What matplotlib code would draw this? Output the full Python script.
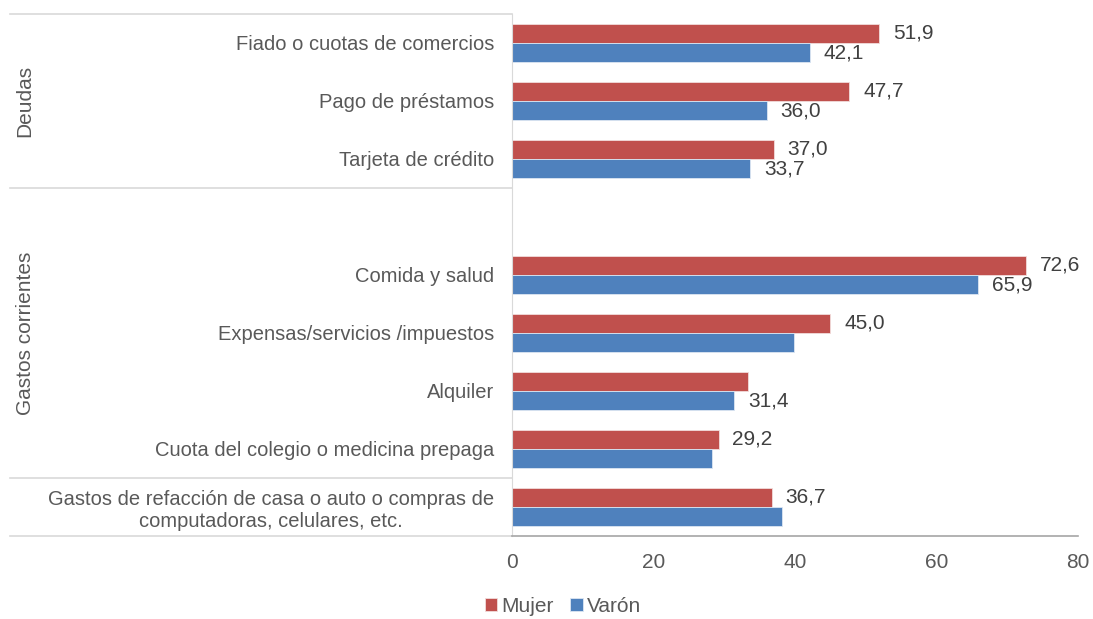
import numpy as np
import matplotlib.pyplot as plt
import matplotlib.transforms as mtransforms

plt.rcParams['font.family'] = ['Liberation Sans', 'DejaVu Sans']

# categories top to bottom ("" = empty slot in the chart)
categories = [
    "Fiado o cuotas de comercios",
    "Pago de préstamos",
    "Tarjeta de crédito",
    "",
    "Comida y salud",
    "Expensas/servicios /impuestos",
    "Alquiler",
    "Cuota del colegio o medicina prepaga",
    "Gastos de refacción de casa o auto o compras de\ncomputadoras, celulares, etc.",
]
mujer = [51.9, 47.7, 37.0, np.nan, 72.6, 45.0, 33.3, 29.2, 36.7]
varon = [42.1, 36.0, 33.7, np.nan, 65.9, 39.8, 31.4, 28.3, 38.2]
# which values get a data label in the original
mujer_shown = [True, True, True, False, True, True, False, True, True]
varon_shown = [True, True, True, False, True, False, True, False, False]

groups = ["Deudas", "Gastos corrientes"]
group_spans = [(0, 2), (3, 7)]   # first and last slot of each group

RED = "#C0504D"
BLUE = "#4F81BD"
TXT = "#595959"

fig = plt.figure(figsize=(10.93, 6.19), dpi=100)
ax = fig.add_axes([0.4684, 0.1341, 0.5179, 0.8433])

y = np.arange(len(categories))
h = 0.33
rm = ax.barh(y - h / 2, mujer, h, color=RED, edgecolor="#f2dcdb", linewidth=0.6, label="Mujer")
rv = ax.barh(y + h / 2, varon, h, color=BLUE, edgecolor="#dce6f2", linewidth=0.6, label="Varón")

for i in range(len(categories)):
    if mujer_shown[i]:
        ax.annotate(f"{mujer[i]:.1f}".replace(".", ","), (mujer[i], y[i] - h / 2),
                    xytext=(10, 0), textcoords="offset points", va="center",
                    fontsize=15, color="#404040")
    if varon_shown[i]:
        ax.annotate(f"{varon[i]:.1f}".replace(".", ","), (varon[i], y[i] + h / 2),
                    xytext=(10, 0), textcoords="offset points", va="center",
                    fontsize=15, color="#404040")

ax.set_xlim(0, 80)
ax.set_ylim(len(categories) - 0.5, -0.5)
ax.set_xticks([0, 20, 40, 60, 80])
ax.set_yticks(y)
ax.set_yticklabels(categories, fontsize=14.5, color=TXT, ha="right")
ax.tick_params(axis="y", length=0, pad=13)
ax.tick_params(axis="x", length=0, pad=12, labelsize=15, labelcolor=TXT)
for lbl in ax.get_yticklabels():
    lbl.set_multialignment("center")

for s in ["top", "right"]:
    ax.spines[s].set_visible(False)
ax.spines["left"].set_color("#d9d9d9")
ax.spines["bottom"].set_color("#a6a6a6")
ax.spines["bottom"].set_linewidth(1.2)

# category group separators in the label area
trans = mtransforms.blended_transform_factory(ax.transAxes, ax.transData)
x0 = -0.887
for yy in [-0.5, 2.5, 7.5, 8.5]:
    ax.plot([x0, 0], [yy, yy], transform=trans, color="#d9d9d9", lw=1.2, clip_on=False)

for name, (a, b) in zip(groups, group_spans):
    ax.text(-0.877, (a + b) / 2, name, transform=trans, rotation=90,
            ha="left", va="center", fontsize=15, color=TXT)

leg = fig.legend(handles=[rm, rv], labels=["Mujer", "Varón"], loc="center",
                 bbox_to_anchor=(0.515, 0.02), ncol=2, frameon=False, fontsize=15,
                 handlelength=0.6, handleheight=0.6, handletextpad=0.2, columnspacing=0.8)
for t in leg.get_texts():
    t.set_color(TXT)

fig.savefig("out.png", dpi=100)
